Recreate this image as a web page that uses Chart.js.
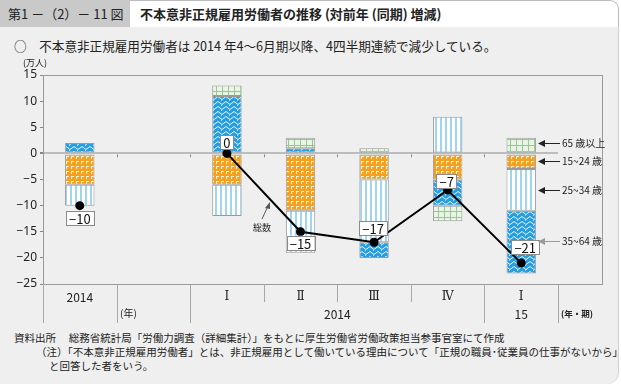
<!DOCTYPE html>
<html lang="ja">
<head>
<meta charset="utf-8">
<script src="https://cdn.jsdelivr.net/npm/chart.js@4.4.1/dist/chart.umd.min.js"></script>
<style>
  body { margin: 0; width: 621px; height: 384px; background: #fff; font-family: "Noto Sans CJK JP", "Noto Sans", sans-serif; color: #222; overflow: hidden; position: relative; }
  .panel { position: absolute; left: 0; top: 27px; width: 618px; height: 357px; background: #eeefee; border-right: 1px solid #cfd0cf; border-bottom-right-radius: 12px; }
  .tab { position: absolute; left: 0; top: 0; width: 130px; height: 27px; background: #c9c9c9; font-size: 13px; line-height: 27px; padding-left: 8px; box-sizing: border-box; white-space: nowrap; }
  .title { position: absolute; left: 130px; top: 0; width: 489px; height: 27px; background: #fff; border-top: 1px solid #bbb; border-right: 1px solid #bbb; border-top-right-radius: 9px; box-sizing: border-box; font-size: 13px; font-weight: bold; line-height: 26px; padding-left: 10px; }
  .sub { position: absolute; left: 14px; top: 36px; font-size: 12.6px; white-space: nowrap; }
  .note { position: absolute; font-size: 10.5px; white-space: nowrap; }
  #wrap { position: absolute; left: 0; top: 55px; width: 621px; height: 275px; }
</style>
</head>
<body>
<div class="panel"></div>
<div class="tab">第1 －（2）－ 11 図</div>
<div class="title">不本意非正規雇用労働者の推移 (対前年 (同期) 増減)</div>
<div class="sub">○　不本意非正規雇用労働者は 2014 年4～6月期以降、4四半期連続で減少している。</div>
<div id="wrap"><canvas id="chart" width="621" height="275"></canvas></div>
<div class="note" style="left:14px; top:330px;">資料出所　 総務省統計局「労働力調査（詳細集計）」をもとに厚生労働省労働政策担当参事官室にて作成</div>
<div class="note" style="left:36px; top:344px;">（注）「不本意非正規雇用労働者」とは、非正規雇用として働いている理由について「正規の職員･従業員の仕事がないから」</div>
<div class="note" style="left:49px; top:358px;">と回答した者をいう。</div>
<script>
// categories: 2014 annual, gap for (年), then quarters
const categories = ['2014', '', 'Ⅰ', 'Ⅱ', 'Ⅲ', 'Ⅳ', 'Ⅰ'];
const yearGroups = [
    { label: '2014', from: 2, to: 5 },
    { label: '15', from: 6, to: 6 }
];

// changes by age group (万人)
const age15to24 = [-6, null, -6, -11, -5, -5, -3];
const age25to34 = [-4, null, -6, -8, -12, 7, -8];
const age35to64 = [2, null, 11, 1, -3, -5, -12];
const age65plus = [null, null, 2, 2, 1, -3, 3];
const totals = [-10, null, 0, -15, -17, -7, -21];

const yMin = -25;
const yMax = 15;
const yStep = 5;

// label offsets for total boxes [dx, dy]
const totalLabelOffsets = [[0, 12], null, [0, -11], [0, 11], [-1, -14], [-1, -9], [4, -16]];

function makePattern(kind) {
    const c = document.createElement('canvas');
    const ctx = c.getContext('2d');
    if (kind === 'green') {
        c.width = 6; c.height = 6;
        ctx.fillStyle = '#e8f4e4';
        ctx.fillRect(0, 0, 6, 6);
        ctx.fillStyle = '#8fcd8f';
        ctx.fillRect(0, 0, 6, 1);
        ctx.fillRect(0, 0, 1, 6);
    } else if (kind === 'blue') {
        c.width = 8; c.height = 5;
        ctx.fillStyle = '#259ee3';
        ctx.fillRect(0, 0, 8, 5);
        ctx.strokeStyle = 'rgba(255,255,255,0.9)';
        ctx.lineWidth = 1;
        ctx.beginPath();
        ctx.moveTo(0, 3);
        ctx.quadraticCurveTo(2, 0, 4, 3);
        ctx.quadraticCurveTo(6, 6, 8, 3);
        ctx.stroke();
        ctx.fillStyle = 'rgba(255,255,255,0.6)';
        ctx.fillRect(5, 0, 1, 1);
    } else if (kind === 'orange') {
        c.width = 5; c.height = 5;
        ctx.fillStyle = '#f5a11e';
        ctx.fillRect(0, 0, 5, 5);
        ctx.fillStyle = '#fff2dc';
        ctx.fillRect(1, 1, 3, 1);
        ctx.fillRect(1, 2, 1, 2);
    } else {
        c.width = 5; c.height = 4;
        ctx.fillStyle = '#ffffff';
        ctx.fillRect(0, 0, 5, 4);
        ctx.fillStyle = '#9fd5f3';
        ctx.fillRect(0, 0, 2, 4);
    }
    return ctx.createPattern(c, 'repeat');
}

const jpFont = '"Noto Sans CJK JP", "Noto Sans", sans-serif';

function arrowLeft(ctx, x1, x2, y) {
    ctx.beginPath();
    ctx.moveTo(x2, y);
    ctx.lineTo(x1 + 6, y);
    ctx.stroke();
    ctx.beginPath();
    ctx.moveTo(x1, y);
    ctx.lineTo(x1 + 7, y - 3.5);
    ctx.lineTo(x1 + 7, y + 3.5);
    ctx.closePath();
    ctx.fill();
}

const decorPlugin = {
    id: 'decor',
    afterDatasetsDraw(chart) {
        const ctx = chart.ctx;
        const x = chart.scales.x;
        const y = chart.scales.y;
        ctx.save();

        // small ticks under zero line at category boundaries
        const zeroY = y.getPixelForValue(0);
        ctx.strokeStyle = '#888';
        ctx.lineWidth = 1;
        for (let i = 0; i < categories.length - 1; i++) {
            const bx = Math.round((x.getPixelForValue(i) + x.getPixelForValue(i + 1)) / 2) + 0.5;
            ctx.beginPath();
            ctx.moveTo(bx, zeroY + 1);
            ctx.lineTo(bx, zeroY + 4);
            ctx.stroke();
        }

        // total value boxes
        const meta = chart.getDatasetMeta(4);
        ctx.font = '13px ' + jpFont;
        ctx.textAlign = 'center';
        ctx.textBaseline = 'middle';
        meta.data.forEach((pt, i) => {
            if (totals[i] === null) return;
            const off = totalLabelOffsets[i];
            const text = totals[i] === 0 ? '0' : '−' + Math.abs(totals[i]);
            const w = ctx.measureText(text).width + 6;
            const cx = pt.x + off[0];
            const cy = pt.y + off[1];
            ctx.fillStyle = '#fff';
            ctx.fillRect(cx - w / 2, cy - 7, w, 14);
            ctx.strokeStyle = '#8a8a8a';
            ctx.strokeRect(Math.round(cx - w / 2) + 0.5, Math.round(cy - 7) + 0.5, Math.round(w), 14);
            ctx.fillStyle = '#111';
            ctx.fillText(text, cx, cy + 1);
        });

        // 総数 label with arrow
        ctx.font = '9px ' + jpFont;
        ctx.fillStyle = '#222';
        ctx.fillText('総数', 262, 173);
        ctx.strokeStyle = '#555';
        ctx.fillStyle = '#555';
        ctx.beginPath();
        ctx.moveTo(262, 164);
        ctx.lineTo(268, 151);
        ctx.stroke();
        ctx.beginPath();
        ctx.moveTo(270, 147);
        ctx.lineTo(265, 153);
        ctx.lineTo(270, 154);
        ctx.closePath();
        ctx.fill();

        ctx.restore();
    },
    afterDraw(chart) {
        const ctx = chart.ctx;
        const area = chart.chartArea;
        const x = chart.scales.x;
        ctx.save();

        // frame around the plot, extended for the legend notes
        const frameRight = 602.5;
        ctx.strokeStyle = '#9a9a9a';
        ctx.lineWidth = 1;
        ctx.strokeRect(area.left + 0.5, area.top + 0.5, frameRight - area.left - 0.5, area.bottom - area.top);

        // table lines under the axis
        const tableBottom = area.bottom + 39;
        const shortBottom = area.bottom + 18;
        const line = (lx, yb) => {
            ctx.beginPath();
            ctx.moveTo(lx, area.bottom);
            ctx.lineTo(lx, yb);
            ctx.stroke();
        };
        ctx.strokeStyle = '#a8a8a8';
        line(area.left + 0.5, tableBottom);
        for (let i = 0; i < categories.length; i++) {
            const bx = Math.round(i === categories.length - 1 ? area.right : (x.getPixelForValue(i) + x.getPixelForValue(i + 1)) / 2) + 0.5;
            const inGroup = i >= 2 && i < 5;
            line(bx, inGroup ? shortBottom : tableBottom);
        }

        // year row
        ctx.fillStyle = '#222';
        ctx.textAlign = 'center';
        ctx.textBaseline = 'middle';
        ctx.font = '12px ' + jpFont;
        yearGroups.forEach(g => {
            const cx = (x.getPixelForValue(g.from) + x.getPixelForValue(g.to)) / 2;
            ctx.fillText(g.label, cx, area.bottom + 30);
        });
        ctx.fillText(categories[0], x.getPixelForValue(0), area.bottom + 13);
        ctx.font = '10px ' + jpFont;
        ctx.textAlign = 'left';
        ctx.fillText('(年)', 120, area.bottom + 29);
        ctx.font = 'bold 8.5px ' + jpFont;
        ctx.fillText('(年・期)', 561, area.bottom + 30);

        // unit label
        ctx.font = '9px ' + jpFont;
        ctx.fillText('(万人)', 23, 8);

        // age group notes
        const notes = [
            { text: '65 歳以上', v: 2 },
            { text: '15~24 歳', v: -1.5 },
            { text: '25~34 歳', v: -7 },
            { text: '35~64 歳', v: -16.8 }
        ];
        ctx.font = '10px ' + jpFont;
        notes.forEach((n, i) => {
            const ny = Math.round(chart.scales.y.getPixelForValue(n.v)) + 0.5;
            ctx.strokeStyle = i === 3 ? '#9a9a9a' : '#222';
            ctx.fillStyle = i === 3 ? '#9a9a9a' : '#222';
            arrowLeft(ctx, 538, 560, ny);
            ctx.fillStyle = '#222';
            ctx.fillText(n.text, 562, ny);
        });

        ctx.restore();
    }
};

const barBase = {
    type: 'bar',
    borderColor: '#9a9a9a',
    borderWidth: 1,
    borderSkipped: false,
    barPercentage: 0.4,
    categoryPercentage: 1,
    order: 1
};

const canvas = document.getElementById('chart');
const c2d = canvas.getContext('2d');

new Chart(c2d, {
    data: {
        labels: categories,
        datasets: [
            Object.assign({}, barBase, { label: '15~24歳', data: age15to24, backgroundColor: makePattern('orange') }),
            Object.assign({}, barBase, { label: '25~34歳', data: age25to34, backgroundColor: makePattern('light') }),
            Object.assign({}, barBase, { label: '35~64歳', data: age35to64, backgroundColor: makePattern('blue') }),
            Object.assign({}, barBase, { label: '65歳以上', data: age65plus, backgroundColor: makePattern('green') }),
            {
                type: 'line',
                label: '総数',
                data: totals,
                borderColor: '#000',
                borderWidth: 2,
                pointRadius: 3.5,
                pointBackgroundColor: '#000',
                pointBorderColor: '#000',
                spanGaps: false,
                order: 0
            }
        ]
    },
    options: {
        responsive: false,
        animation: false,
        devicePixelRatio: 1,
        layout: { padding: { left: 0, right: 63, top: 20, bottom: 0 } },
        plugins: {
            legend: { display: false },
            tooltip: { enabled: false }
        },
        scales: {
            x: {
                stacked: true,
                grid: { display: false, drawTicks: false },
                border: { display: false },
                ticks: {
                    color: '#222',
                    font: { size: 12, family: '"DejaVu Serif", serif' },
                    padding: 6,
                    maxRotation: 0,
                    autoSkip: false,
                    // the annual label is drawn in sans by the plugin
                    callback: (v, i) => i === 0 ? '' : categories[i]
                },
                afterFit: s => { s.height = 46; }
            },
            y: {
                stacked: true,
                min: yMin,
                max: yMax,
                ticks: {
                    stepSize: yStep,
                    color: '#222',
                    font: { size: 12, family: '"Noto Sans", sans-serif' },
                    padding: 3,
                    callback: v => v < 0 ? '−' + Math.abs(v) : String(v)
                },
                grid: {
                    color: c => c.tick && c.tick.value === 0 ? '#bdbdbd' : 'rgba(0,0,0,0)',
                    lineWidth: c => c.tick && c.tick.value === 0 ? 2 : 1,
                    tickColor: '#888',
                    tickLength: 3
                },
                border: { display: true, color: '#9a9a9a' },
                afterFit: s => { s.width = 43; }
            }
        }
    },
    plugins: [decorPlugin]
});
</script>
</body>
</html>
